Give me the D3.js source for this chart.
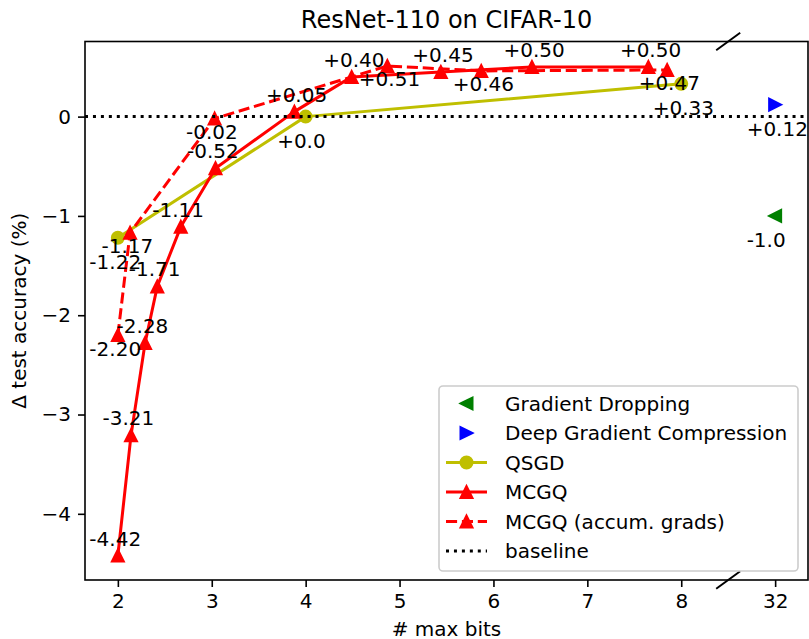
<!DOCTYPE html>
<html>
<head>
<meta charset="utf-8">
<script src="https://cdn.jsdelivr.net/npm/d3@7"></script>
<style>
  body { margin: 0; background: #fff; }
  svg text { font-family: "DejaVu Sans", sans-serif; fill: #000; }
</style>
</head>
<body>
<svg id="chart" width="809" height="639"></svg>
<script>
// x ticks: 32 bits is drawn in the slot right after 8 (broken axis)
const xTicks = [2, 3, 4, 5, 6, 7, 8, 32];
const yTicks = [-4, -3, -2, -1, 0];

const gdBits = [32];
const gdAcc = [-1.0];
const gdLabels = ["-1.0"];

const dgcBits = [32];
const dgcAcc = [0.12];
const dgcLabels = ["+0.12"];

const qsgdBits = [2, 4, 8];
const qsgdAcc = [-1.22, 0.0, 0.33];
const qsgdLabels = ["-1.22", "+0.0", "+0.33"];

const mcgqBits = [2.0, 2.14, 2.29, 2.42, 2.67, 3.04, 3.88, 4.49, 5.44, 6.41, 7.65];
const mcgqAcc = [-4.42, -3.21, -2.28, -1.71, -1.11, -0.52, 0.05, 0.40, 0.45, 0.50, 0.50];
const mcgqLabels = ["-4.42", "-3.21", "-2.28", "-1.71", "-1.11", "-0.52", "+0.05", "+0.40", "+0.45", "+0.50", "+0.50"];

const accBits = [2.0, 2.13, 3.03, 4.87, 5.87, 7.85];
const accAcc = [-2.20, -1.17, -0.02, 0.51, 0.46, 0.47];
const accLabels = ["-2.20", "-1.17", "-0.02", "+0.51", "+0.46", "+0.47"];

const legendNames = ["Gradient Dropping", "Deep Gradient Compression", "QSGD", "MCGQ", "MCGQ (accum. grads)", "baseline"];

let pos = b => b === 32 ? 9 : b;

let pLeft = 85, pRight = 808, pTop = 41.5, pBottom = 580;

let x = d3.scaleLinear().domain([1.65, 9.35]).range([pLeft, pRight]);
let y = d3.scaleLinear().domain([-4.6665, 0.7565]).range([pBottom, pTop]);

let svg = d3.select("#chart");

// marker shapes, 12px like matplotlib markersize 6
let shapes = {
  up: "M0,-6L-6,6L6,6Z",
  left: "M-6,0L6,-6L6,6Z",
  right: "M6,0L-6,6L-6,-6Z"
};

function drawMarker(g, shape, color) {
  if (shape === "circle") {
    g.append("circle").attr("r", 6).attr("fill", color).attr("stroke", color).attr("stroke-width", 2);
  } else {
    g.append("path").attr("d", shapes[shape]).attr("fill", color)
      .attr("stroke", color).attr("stroke-width", 2).attr("stroke-linejoin", "miter");
  }
}

let zip = (bs, as) => bs.map((b, i) => ({ b: b, a: as[i] }));

let line = d3.line().x(d => x(pos(d.b))).y(d => y(d.a));

// series: markers-only ones first, then lines
let series = [
  { data: zip(gdBits, gdAcc), labels: gdLabels, color: "#008000", shape: "left", line: false, dy: 31 },
  { data: zip(dgcBits, dgcAcc), labels: dgcLabels, color: "#0000ff", shape: "right", line: false, dy: 31 },
  { data: zip(qsgdBits, qsgdAcc), labels: qsgdLabels, color: "#bfbf00", shape: "circle", line: true, dash: null, dy: 31 },
  { data: zip(mcgqBits, mcgqAcc), labels: mcgqLabels, color: "#ff0000", shape: "up", line: true, dash: null, dy: -10 },
  { data: zip(accBits, accAcc), labels: accLabels, color: "#ff0000", shape: "up", line: true, dash: "11.1,4.8", dy: 20.5 }
];

const plot = svg.append("g");

series.forEach(s => {
  if (s.line) {
    plot.append("path")
      .datum(s.data)
      .attr("fill", "none")
      .attr("stroke", s.color)
      .attr("stroke-width", 3)
      .attr("stroke-linejoin", "round")
      .attr("stroke-dasharray", s.dash)
      .attr("d", line);
  }
  s.data.forEach(d => {
    let g = plot.append("g").attr("transform", `translate(${x(pos(d.b))},${y(d.a)})`);
    drawMarker(g, s.shape, s.color);
  });
});

// baseline
plot.append("line")
  .attr("x1", pLeft).attr("x2", pRight)
  .attr("y1", y(0)).attr("y2", y(0))
  .attr("stroke", "#000")
  .attr("stroke-width", 3)
  .attr("stroke-dasharray", "3,4.95");

// value annotations
series.forEach(s => {
  s.data.forEach((d, i) => {
    plot.append("text")
      .attr("x", x(pos(d.b)) - 28.5)
      .attr("y", y(d.a) + s.dy)
      .attr("font-size", 20)
      .text(s.labels[i]);
  });
});

// axes
let xAxis = d3.axisBottom(x)
  .tickValues(xTicks.map(pos))
  .tickFormat((v, i) => String(xTicks[i]))
  .tickSize(7).tickPadding(7);
let yAxis = d3.axisLeft(y)
  .tickValues(yTicks)
  .tickFormat(d3.format("d"))
  .tickSize(7).tickPadding(7);

let gx = svg.append("g").attr("transform", `translate(0,${pBottom})`).call(xAxis);
let gy = svg.append("g").attr("transform", `translate(${pLeft},0)`).call(yAxis);
[gx, gy].forEach(g => {
  g.select(".domain").remove();
  g.selectAll(".tick line").attr("stroke", "#000").attr("stroke-width", 1.6);
  g.selectAll(".tick text").attr("font-size", 20).attr("font-family", "DejaVu Sans").attr("fill", "#000");
});

// frame
svg.append("rect")
  .attr("x", pLeft).attr("y", pTop)
  .attr("width", pRight - pLeft).attr("height", pBottom - pTop)
  .attr("fill", "none").attr("stroke", "#000").attr("stroke-width", 1.6);

// break marks on top and bottom spines
[pTop, pBottom].forEach(yy => {
  svg.append("line")
    .attr("x1", x(8.5) - 12).attr("y1", yy + 8.7)
    .attr("x2", x(8.5) + 12).attr("y2", yy - 8.7)
    .attr("stroke", "#000").attr("stroke-width", 2);
});

// titles
svg.append("text")
  .attr("x", (pLeft + pRight) / 2).attr("y", 28)
  .attr("text-anchor", "middle").attr("font-size", 24)
  .text("ResNet-110 on CIFAR-10");
svg.append("text")
  .attr("x", (pLeft + pRight) / 2).attr("y", 636)
  .attr("text-anchor", "middle").attr("font-size", 20)
  .text("# max bits");
svg.append("text")
  .attr("transform", `translate(26,${(pTop + pBottom) / 2}) rotate(-90)`)
  .attr("text-anchor", "middle").attr("font-size", 20)
  .text("\u0394 test accuracy (%)");

// legend
const legend = svg.append("g");
legend.append("rect")
  .attr("x", 439).attr("y", 386).attr("width", 359).attr("height", 185)
  .attr("rx", 4)
  .attr("fill", "#fff").attr("fill-opacity", 0.8)
  .attr("stroke", "#cccccc").attr("stroke-width", 1.6);

let legendItems = [
  { color: "#008000", shape: "left", line: false },
  { color: "#0000ff", shape: "right", line: false },
  { color: "#bfbf00", shape: "circle", line: true, dash: null },
  { color: "#ff0000", shape: "up", line: true, dash: null },
  { color: "#ff0000", shape: "up", line: true, dash: "11.1,4.8" },
  { color: "#000", shape: null, line: true, dash: "3,4.95" }
];

legendItems.forEach((it, i) => {
  let cy = 403.5 + i * 29.5;
  if (it.line) {
    legend.append("line")
      .attr("x1", 446).attr("x2", 487)
      .attr("y1", cy).attr("y2", cy)
      .attr("stroke", it.color).attr("stroke-width", 3)
      .attr("stroke-dasharray", it.dash);
  }
  if (it.shape) {
    let g = legend.append("g").attr("transform", `translate(466.5,${cy})`);
    drawMarker(g, it.shape, it.color);
  }
  legend.append("text")
    .attr("x", 505).attr("y", cy + 7)
    .attr("font-size", 20)
    .text(legendNames[i]);
});
</script>
</body>
</html>
